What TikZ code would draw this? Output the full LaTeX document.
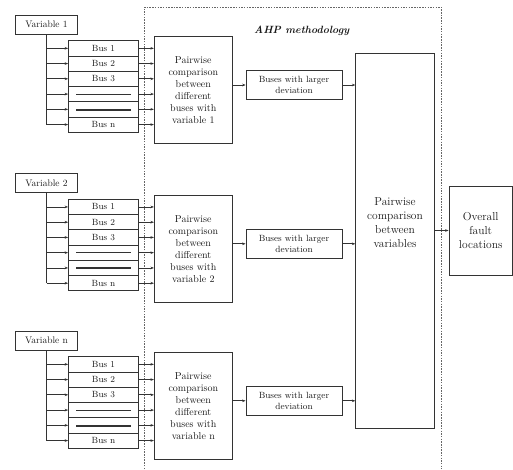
\documentclass[tikz,border=0pt]{standalone}
\usetikzlibrary{arrows.meta}
\begin{document}
\begin{tikzpicture}[x=1pt,y=-1pt]
\tikzset{
 ln/.style={draw=black!80, line width=0.7pt},
 arr/.style={ln, -{Stealth[length=3.5pt,width=2.6pt]}},
 box/.style={ln, rectangle, inner sep=0pt, text=black!90, align=center},
 busf/.style={font=\fontsize{9}{11}\selectfont},
}
\useasboundingbox (0,0) rectangle (513,469);
% AHP dashed frame
\draw[black!60, dash pattern=on 1.5pt off 1.2pt, line width=0.8pt] (144,469) -- (144,7.3) -- (441.7,7.3) -- (441.7,469);
\node[font=\fontsize{10.5}{12}\selectfont\bfseries\itshape, text=black!90] (ahp) at (301.7,31) {AHP methodology};
% big box
\node[box, minimum width=78.6pt, minimum height=375pt] (big) at (395,240.8) {};
\node[font=\fontsize{11.5}{14}\selectfont, align=center, text=black!90] (bigtxt) at (395,223) {Pairwise\\comparison\\between\\variables};
\node[box, minimum width=63.5pt, minimum height=89pt, font=\fontsize{11.5}{14}\selectfont] (ov) at (480.7,230.5) {Overall\\fault\\locations};
\draw[arr] (big.east |- ov.west) -- (ov.west);
% blocks
\foreach \k/\lab/\vy/\by/\py/\xy in {1/1/24.7/40.7/90.3/85, 2/2/183/199.3/249.2/243.8, n/n/340.5/356.7/405.8/400.8}{
 \node[box, minimum width=62pt, minimum height=19.3pt, font=\fontsize{9.5}{11}\selectfont] (var\k) at (46.5,\vy) {Variable \lab};
 \foreach \i/\t in {1/Bus 1,2/Bus 2,3/Bus 3,4/,5/,6/Bus n}{
  \pgfmathsetmacro\ry{\by+(\i-0.5)*15.25}
  \node[box, busf, minimum width=70pt, minimum height=15.25pt] (r\k-\i) at (103.5,\ry) {\t};
 }
 \node[box, minimum width=78pt, minimum height=107pt, font=\fontsize{10}{12}\selectfont] (pw\k) at (193.3,\py) {Pairwise\\comparison\\between\\different\\buses with\\variable \lab};
 \node[box, busf, minimum width=96pt, minimum height=29pt] (bx\k) at (294,\xy) {Buses with larger\\deviation};
 \draw[ln] (var\k.south) -- (var\k.south |- r\k-6.west);
 \foreach \i in {1,...,6}{
  \draw[arr] (var\k.south |- r\k-\i.west) -- (r\k-\i.west);
  \draw[arr] (r\k-\i.east) -- (pw\k.west |- r\k-\i.east);
 }
 \draw[ln] ([xshift=8pt]r\k-4.west) -- ([xshift=-8pt]r\k-4.east);
 \draw[ln, line width=2pt] ([xshift=8pt,yshift=-0.5pt]r\k-5.west) -- ([xshift=-8pt,yshift=-0.5pt]r\k-5.east);
 \draw[arr] (pw\k.east |- bx\k.west) -- (bx\k.west);
 \draw[arr] (bx\k.east) -- (big.west |- bx\k.east);
}
\draw[ln, line width=1.3pt] (r1-2.south west) -- (r1-2.south east);
\end{tikzpicture}
\end{document}
